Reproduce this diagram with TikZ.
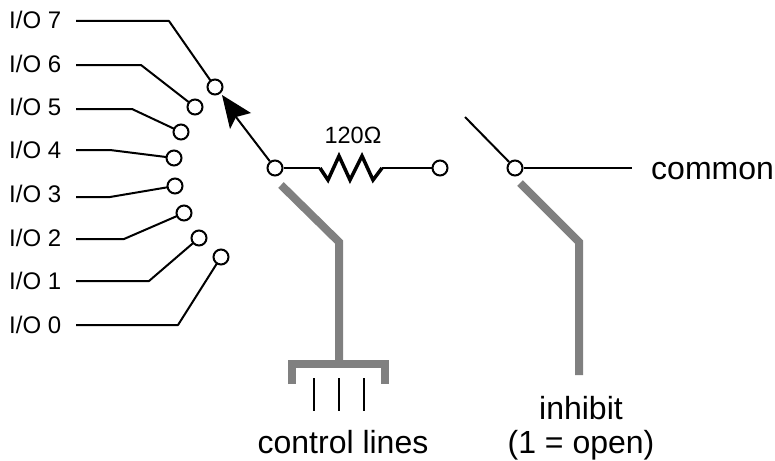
\documentclass[tikz,border=0pt]{standalone}
\usepackage{fontspec}
\setmainfont{Liberation Sans}
\usetikzlibrary{arrows.meta}
\definecolor{ctrlgray}{gray}{0.5}
\tikzset{
 term/.style={circle,draw=black,fill=white,line width=2pt,minimum size=15pt,inner sep=0pt},
 wire/.style={line width=2pt,black,line join=round},
 ctrl/.style={line width=8pt,ctrlgray,line join=miter},
 tick/.style={line width=2pt,black},
 iolabel/.style={anchor=base west,font=\fontsize{24pt}{26pt}\selectfont,inner sep=0pt},
 biglabel/.style={anchor=base,font=\fontsize{32pt}{36pt}\selectfont,inner sep=0pt},
 vallabel/.style={anchor=base,font=\fontsize{23.5pt}{26pt}\selectfont,inner sep=0pt}
}
\begin{document}
\begin{tikzpicture}[x=1pt,y=-1pt]
\useasboundingbox (0,0) rectangle (775,460);
% I/O labels
\node[iolabel] (l7) at (9,29) {I/O 7};
\node[iolabel] (l6) at (9,72) {I/O 6};
\node[iolabel] (l5) at (9,115) {I/O 5};
\node[iolabel] (l4) at (9,158) {I/O 4};
\node[iolabel] (l3) at (9,202) {I/O 3};
\node[iolabel] (l2) at (9,246) {I/O 2};
\node[iolabel] (l1) at (9,289) {I/O 1};
\node[iolabel] (l0) at (9,333) {I/O 0};
% fan wires
\coordinate (w7) at (76,21); \coordinate (w6) at (76,65); \coordinate (w5) at (76,109); \coordinate (w4) at (76,150);
\coordinate (w3) at (76,197); \coordinate (w2) at (76,239); \coordinate (w1) at (76,281); \coordinate (w0) at (76,325);
\coordinate (t7c) at (215,87); \coordinate (t6c) at (195,107); \coordinate (t5c) at (181,132); \coordinate (t4c) at (174,158);
\coordinate (t3c) at (175,186); \coordinate (t2c) at (184,213); \coordinate (t1c) at (199,238); \coordinate (t0c) at (221,257);
\draw[wire] (w7) -- (169,21) -- (t7c);
\draw[wire] (w6) -- (141,65) -- (t6c);
\draw[wire] (w5) -- (132,109) -- (t5c);
\draw[wire] (w4) -- (110,150) -- (t4c);
\draw[wire] (w3) -- (110,197) -- (t3c);
\draw[wire] (w2) -- (124,239) -- (t2c);
\draw[wire] (w1) -- (149,281) -- (t1c);
\draw[wire] (w0) -- (178,325) -- (t0c);
% terminals
\node[term] (t7) at (t7c) {};
\node[term] (t6) at (t6c) {};
\node[term] (t5) at (t5c) {};
\node[term] (t4) at (t4c) {};
\node[term] (t3) at (t3c) {};
\node[term] (t2) at (t2c) {};
\node[term] (t1) at (t1c) {};
\node[term] (t0) at (t0c) {};
\node[term] (a) at (275,168) {};
\node[term] (b) at (440,168) {};
\node[term] (c) at (515,168) {};
% wiper
\coordinate (notch) at (236,117);
\draw[wire] (a) -- (notch);
\fill[black] (222,95) -- (251,113) -- (notch) -- (230,129) -- cycle;
% resistor
\coordinate (r1) at (320,168);
\coordinate (r2) at (382,168);
\draw[wire] (a) -- (r1);
\draw[line width=3.5pt,black,line join=miter] (r1) -- (328,180) -- (339,156) -- (350,180) -- (362,156) -- (373,180) -- (r2);
\draw[wire] (r2) -- (b);
\node[vallabel] (r) at (353,143) {120Ω};
% right switch
\coordinate (sw) at (465,117);
\coordinate (cm) at (632,168);
\draw[wire] (sw) -- (c);
\draw[wire] (c) -- (cm);
\node[biglabel,anchor=base west] (common) at (651,179) {common};
% control links
\draw[ctrl] (281,185) -- (339,242) -- (339,364);
\draw[ctrl] (292,384) -- (292,364) -- (385,364) -- (385,384);
\draw[ctrl] (520,183) -- (579,242) -- (579,375);
\draw[tick] (314,378) -- (314,411);
\draw[tick] (338.5,378) -- (338.5,411);
\draw[tick] (364,378) -- (364,411);
\node[biglabel] (cl) at (343,453) {control lines};
\node[biglabel] (inh) at (581,419) {inhibit};
\node[biglabel] (op) at (581,453) {(1 = open)};
\end{tikzpicture}
\end{document}
